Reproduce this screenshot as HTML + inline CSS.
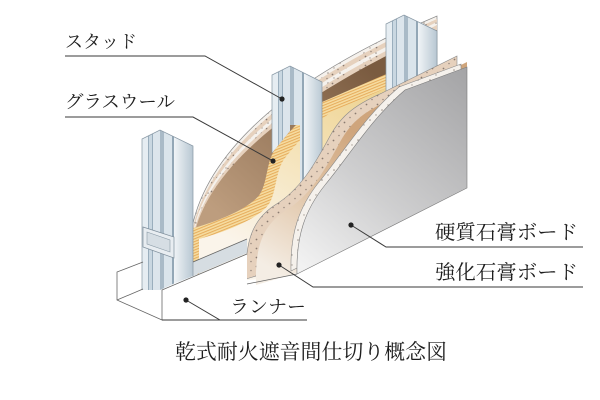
<!DOCTYPE html>
<html><head><meta charset="utf-8"><style>html,body{margin:0;padding:0;background:#fff;}svg{display:block}</style></head>
<body>
<svg xmlns="http://www.w3.org/2000/svg" width="600" height="400" viewBox="0 0 600 400">
<defs>
<pattern id="pd" width="11" height="9" patternUnits="userSpaceOnUse">
 <rect width="11" height="9" fill="#e6d1bd"/>
 <circle cx="2.5" cy="2.5" r="0.9" fill="#8a7a70"/>
 <circle cx="8" cy="6.5" r="0.8" fill="#9a8a80"/>
</pattern>
<pattern id="wd" width="12" height="10" patternUnits="userSpaceOnUse">
 <rect width="12" height="10" fill="#f5f1ec"/>
 <circle cx="4" cy="3" r="0.8" fill="#9a9088"/>
 <circle cx="10" cy="8" r="0.7" fill="#a89e96"/>
</pattern>
<pattern id="st" width="8" height="2.6" patternUnits="userSpaceOnUse" patternTransform="rotate(-22)">
 <rect width="8" height="2.6" fill="#f6dca0"/>
 <rect width="8" height="1" fill="#e6ac5c"/>
</pattern>
<linearGradient id="gBrown" gradientUnits="userSpaceOnUse" x1="360" y1="60" x2="220" y2="215">
 <stop offset="0" stop-color="#7a5b40"/><stop offset="1" stop-color="#bd9d7e"/>
</linearGradient>
<linearGradient id="gYel" gradientUnits="userSpaceOnUse" x1="380" y1="80" x2="270" y2="260">
 <stop offset="0" stop-color="#eed28e"/><stop offset="0.5" stop-color="#f5e4bc"/><stop offset="1" stop-color="#faf4ea"/>
</linearGradient>
<linearGradient id="gTan" gradientUnits="userSpaceOnUse" x1="350" y1="130" x2="265" y2="265">
 <stop offset="0" stop-color="#cfa57c"/><stop offset="0.45" stop-color="#e0c4a6"/><stop offset="1" stop-color="#f4ede4"/>
</linearGradient>
<linearGradient id="gGray" gradientUnits="userSpaceOnUse" x1="467" y1="70" x2="300" y2="265">
 <stop offset="0" stop-color="#a4a4a6"/><stop offset="0.6" stop-color="#cfcfd0"/><stop offset="1" stop-color="#f2f2f2"/>
</linearGradient>
<linearGradient id="gStud" x1="0" y1="0" x2="1" y2="0">
 <stop offset="0" stop-color="#f0f4f7"/><stop offset="1" stop-color="#b8c7d2"/>
</linearGradient>
<path id="G" d="M190,229 C220,221 250,208 260,194 C268,181 266,161 276,148 C288,133 300,119 322,102 L437,52 L437,185 L260,268 L190,275 Z"/>
<path id="T2" d="M256,285 C255,248 262,226 285,211 C310,196 325,170 340,142 C350,124 362,112 392,99 L467,62 L467,186 L297,273 Z"/>
<path id="F3" d="M297,274 C296,236 305,210 325,185 C350,155 370,120 405,90 L467,67 L467,188 Z"/>
<g id="cols">
 <rect x="0" y="0" width="6" height="300" fill="#e6edf2"/>
 <rect x="6" y="0" width="1" height="300" fill="#9aaebd"/>
 <rect x="7" y="0" width="3" height="300" fill="#c9d7e1"/>
 <rect x="10" y="0" width="1" height="300" fill="#9aaebd"/>
 <rect x="11" y="0" width="7" height="300" fill="#dce5ec"/>
 <rect x="18" y="0" width="4" height="300" fill="#a9bac7"/>
 <rect x="22" y="0" width="8" height="300" fill="#dae4eb"/>
 <rect x="30" y="0" width="2" height="300" fill="#93a7b6"/>
 <rect x="32" y="0" width="19" height="300" fill="url(#gStud)"/>
</g>
<clipPath id="cL"><polygon points="142,139 160,130 193,146 193,276 173,284 160,290 142,290"/></clipPath>
<clipPath id="cM"><polygon points="272,75 290,66 322,82 322,205 300,205 300,125 290,125 290,131 272,153"/></clipPath>
<clipPath id="cR"><polygon points="386,24 404,15 437,31 437,110 386,110"/></clipPath>
</defs>

<!-- back boards arch -->
<path d="M190,240 C198,170 260,100 386,38 L437,16 L437,180 L250,262 L190,270 Z" fill="url(#wd)" stroke="#888" stroke-width="0.7"/>
<path d="M191,239 C200,171 263,102.5 389,40.5 L437,19 L437,180 L250,262 L190,270 Z" fill="url(#pd)"/>
<path d="M192,238 C202,173 267,105.5 393,43.5 L437,22 L437,180 L250,262 L190,270 Z" fill="url(#wd)"/>
<path d="M193,237 C204,175 270,108 396,46 L437,25 L437,180 L250,262 L190,270 Z" fill="url(#pd)"/>
<path d="M194,236 C206,177 274,111 400,49 L437,30 L437,180 L250,262 L190,270 Z" fill="url(#gBrown)"/>

<!-- glass wool -->
<use href="#G" fill="url(#st)"/>
<use href="#G" transform="translate(9,10)" fill="url(#gYel)"/>

<!-- runner back lip strip -->
<polygon points="193,262 247,239 247,253 193,276" fill="#d6dde2"/>

<!-- middle stud -->
<g clip-path="url(#cM)"><use href="#cols" x="272" y="0"/></g>
<polyline points="272,153 272,75 290,66 322,82 322,200" fill="none" stroke="#8797a4" stroke-width="0.7"/>
<!-- right stud -->
<g clip-path="url(#cR)"><use href="#cols" x="386" y="0"/></g>
<polyline points="386,100 386,24 404,15 437,31 437,100" fill="none" stroke="#8797a4" stroke-width="0.7"/>

<!-- second board -->
<use href="#T2" transform="translate(-10,-6)" fill="url(#pd)" stroke="#8a8a8a" stroke-width="0.6"/>
<use href="#T2" fill="url(#gTan)"/>

<!-- front board -->
<use href="#F3" transform="translate(-6,-3)" fill="url(#wd)" stroke="#8a8a8a" stroke-width="0.6"/>
<use href="#F3" fill="url(#gGray)" stroke="#7a7a7a" stroke-width="0.6"/>

<!-- runner end -->
<polygon points="117,272 143,262 143,290 162,290 162,320 117,300" fill="#fff"/>

<!-- left stud -->
<g clip-path="url(#cL)"><use href="#cols" x="142" y="0"/></g>
<polyline points="142,290 142,139 160,130 193,146 193,276" fill="none" stroke="#8797a4" stroke-width="0.7"/>
<polygon points="143,227 174,237 174,258 143,247" fill="#e8edf1" stroke="#7f8f9c" stroke-width="0.7"/>
<polygon points="147,232 170,240 170,252 147,244" fill="#d6dee4" stroke="#8a9aa6" stroke-width="0.6"/>

<!-- runner front -->
<polygon points="162,290 247,254 247,284 220,320 162,320" fill="#fff"/>
<g fill="none" stroke="#666" stroke-width="0.8">
 <polyline points="143,262 117,272 117,300 162,320 162,290 247,254"/>
 <line x1="117" y1="300" x2="143" y2="289"/>
 <line x1="193" y1="262" x2="247" y2="239"/>
 <line x1="247" y1="284" x2="297" y2="274"/>
</g>

<!-- callouts -->
<g fill="none" stroke="#3a3a3a" stroke-width="1">
 <polyline points="65,56 205,56 282,99"/>
 <polyline points="65,117 193,117 273,161"/>
 <polyline points="583,247 386,247 351,225"/>
 <polyline points="583,287 313,287 279,265"/>
 <polyline points="307,320 220,320 186,300"/>
 <line x1="162" y1="320" x2="220" y2="320"/>
</g>
<g fill="#222">
 <circle cx="282" cy="99" r="2.6"/>
 <circle cx="273" cy="161" r="2.6"/>
 <circle cx="351" cy="225" r="2.6"/>
 <circle cx="279" cy="265" r="2.6"/>
 <circle cx="186" cy="300" r="2.6"/>
</g>

<!-- labels -->
<g font-family="'Liberation Serif','Noto Serif CJK SC',serif" fill="#1e1e1e">
 <text x="65" y="48" font-size="18" textLength="72" lengthAdjust="spacingAndGlyphs">スタッド</text>
 <text x="65" y="108" font-size="18" textLength="110" lengthAdjust="spacingAndGlyphs">グラスウール</text>
 <text x="435" y="239" font-size="20" textLength="143" lengthAdjust="spacingAndGlyphs">硬質石膏ボード</text>
 <text x="435" y="279" font-size="20" textLength="143" lengthAdjust="spacingAndGlyphs">強化石膏ボード</text>
 <text x="230" y="313" font-size="18" textLength="76" lengthAdjust="spacingAndGlyphs">ランナー</text>
 <text x="175" y="359" font-size="21" textLength="272" lengthAdjust="spacingAndGlyphs">乾式耐火遮音間仕切り概念図</text>
</g>
</svg>
</body></html>
